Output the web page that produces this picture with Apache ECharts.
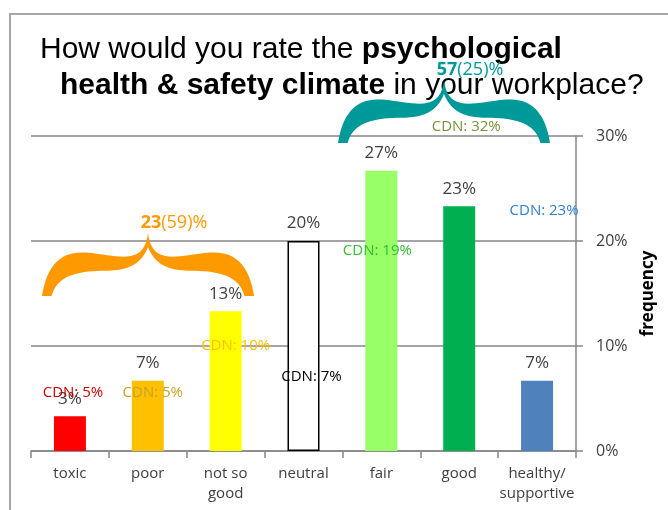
<!DOCTYPE html>
<html><head><meta charset="utf-8">
<script src="https://cdn.jsdelivr.net/npm/echarts@6/dist/echarts.min.js"></script>
<style>html,body{margin:0;padding:0;background:#fff}#c{width:668px;height:510px}</style>
</head><body><div id="c"></div>
<script>
// ---- data ----
const categories = ['toxic', 'poor', 'not so\ngood', 'neutral', 'fair', 'good', 'healthy/\nsupportive'];
const frequency = [3.3, 6.7, 13.3, 20, 26.7, 23.3, 6.7];
const cdnCategories = ['toxic', 'poor', 'not so\ngood', 'neutral', 'fair', 'healthy/\nsupportive'];
const cdnValues = [5, 5, 10, 7, 19, 23];
const groupTotals = [23, 57];
const groupPrevious = [59, 25];
const groupCdnCategory = 'good';
const groupCdnValue = 32;
const yTicks = [0, 10, 20, 30];

// ---- styles ----
const barColors = ['#ff0000', '#ffc000', '#ffff00', '#ffffff', '#99ff66', '#00b050', '#4f81bd'];
const cdnColors = ['#cc0000', '#c9a227', '#ffc000', '#000000', '#33bb33', '#2f7fd0'];
const cdnOffsets = [[3, -6], [5, -6], [10, 0], [8, -1], [-4, -1], [7, 1]];
const txt = '#404040';
const FONT = 'Open Sans';

function bez(p0, p1, p2, p3, n, out) {
  for (let i = 1; i <= n; i++) {
    const t = i / n, u = 1 - t;
    out.push([
      u*u*u*p0[0] + 3*u*u*t*p1[0] + 3*u*t*t*p2[0] + t*t*t*p3[0],
      u*u*u*p0[1] + 3*u*u*t*p1[1] + 3*u*t*t*p2[1] + t*t*t*p3[1]
    ]);
  }
}
function brace(x0, x1, t, e) {
  const W = x1 - x0, H = e - t;
  const L = (a, b) => [x0 + a * W, t + b * H];
  const R = (a, b) => [x1 - a * W, t + b * H];
  const pts = [L(0, 1)];
  let cur = L(0, 1);
  const run = (segs) => segs.forEach(s => { bez(cur, s[0], s[1], s[2], 20, pts); cur = s[2]; });
  run([
    [L(0.02, 0.55), L(0.08, 0.32), L(0.18, 0.31)],
    [L(0.32, 0.30), L(0.48, 0.60), L(0.5, 0)],
    [R(0.48, 0.60), R(0.32, 0.30), R(0.18, 0.31)],
    [R(0.08, 0.32), R(0.02, 0.55), R(0, 1)]
  ]);
  cur = R(0.045, 1); pts.push(cur);
  run([
    [R(0.07, 0.70), R(0.15, 0.60), R(0.30, 0.60)],
    [R(0.40, 0.60), R(0.47, 0.50), L(0.5, 0.22)],
    [L(0.47, 0.50), L(0.40, 0.60), L(0.30, 0.60)],
    [L(0.15, 0.60), L(0.07, 0.70), L(0.045, 1)]
  ]);
  return pts;
}

const titleRich = {
  n: { fontFamily: 'Liberation Sans', fontSize: 30, fill: '#000' },
  b: { fontFamily: 'Liberation Sans', fontSize: 30, fontWeight: 'bold', fill: '#000' }
};

const chart = echarts.init(document.getElementById('c'), null, { renderer: 'canvas' });
chart.setOption({
  animation: false,
  backgroundColor: '#fff',
  grid: { left: 31, right: 92, top: 136, bottom: 59 },
  xAxis: {
    type: 'category', data: categories,
    axisLine: { lineStyle: { color: '#868686', width: 1.5 } },
    axisTick: { show: true, length: 7, lineStyle: { color: '#868686', width: 1.5 } },
    axisLabel: { color: txt, fontFamily: FONT, fontSize: 15, margin: 13, lineHeight: 20, interval: 0 }
  },
  yAxis: {
    type: 'value', position: 'right', min: 0, max: 30, interval: 10,
    axisLine: { show: true, lineStyle: { color: '#868686', width: 1.5 } },
    axisTick: { show: true, length: 7, lineStyle: { color: '#868686', width: 1.5 } },
    splitLine: { lineStyle: { color: '#868686', width: 1.5 } },
    axisLabel: { color: txt, fontFamily: FONT, fontSize: 16, margin: 20, formatter: v => yTicks.includes(v) ? v + '%' : '' },
    name: 'frequency', nameLocation: 'middle', nameRotate: 90, nameGap: 64,
    nameTextStyle: { color: '#000', fontFamily: FONT, fontSize: 17, fontWeight: 'bold' }
  },
  series: [
    {
      type: 'bar', barWidth: 32,
      data: frequency.map((v, i) => ({
        value: v,
        itemStyle: { color: barColors[i], borderColor: i === 3 ? '#000' : barColors[i], borderWidth: i === 3 ? 1.5 : 0 }
      })),
      label: { show: true, position: 'top', distance: 9, color: txt, fontFamily: FONT, fontSize: 17,
        formatter: p => Math.round(p.value) + '%' }
    },
    {
      type: 'scatter', symbolSize: 1, clip: false, z: 5,
      itemStyle: { color: 'rgba(0,0,0,0)', opacity: 1 },
      emphasis: { disabled: true },
      data: cdnCategories.map((c, i) => ({
        value: [c, cdnValues[i]],
        label: { color: cdnColors[i], offset: cdnOffsets[i] }
      })).concat([{
        value: [groupCdnCategory, 30.9],
        label: { color: '#77933c', offset: [7, 0], formatter: 'CDN: ' + groupCdnValue + '%' }
      }]),
      label: { show: true, position: 'inside', fontFamily: FONT, fontSize: 15, opacity: 1,
        formatter: p => 'CDN: ' + p.value[1] + '%' }
    }
  ],
  graphic: [
    { type: 'rect', shape: { x: 10, y: 14, width: 800, height: 600 }, style: { fill: 'none', stroke: '#a6a6a6', lineWidth: 2 }, z: 0 },
    { type: 'text', x: 40, y: 50, style: { text: '{n|How would you rate the }{b|psychological}', verticalAlign: 'middle', rich: titleRich }, z: 10 },
    { type: 'text', x: 60, y: 86, style: { text: '{b|health & safety climate}{n| in your workplace?}', verticalAlign: 'middle', rich: titleRich }, z: 10 },
    { type: 'polygon', shape: { points: brace(42, 254, 233, 296) }, style: { fill: '#ff9900' }, z: 20 },
    { type: 'polygon', shape: { points: brace(338, 550, 80, 143) }, style: { fill: '#009999' }, z: 20 },
    { type: 'text', x: 174, y: 223, style: {
      text: '{b|' + groupTotals[0] + '}{n|(' + groupPrevious[0] + ')%}', align: 'center', verticalAlign: 'middle',
      rich: { b: { fontFamily: FONT, fontSize: 18, fontWeight: 'bold', fill: '#ff9900' }, n: { fontFamily: FONT, fontSize: 18, fill: '#ff9900' } } }, z: 21 },
    { type: 'text', x: 470, y: 70, style: {
      text: '{b|' + groupTotals[1] + '}{n|(' + groupPrevious[1] + ')%}', align: 'center', verticalAlign: 'middle',
      rich: { b: { fontFamily: FONT, fontSize: 18, fontWeight: 'bold', fill: '#009999' }, n: { fontFamily: FONT, fontSize: 18, fill: '#009999' } } }, z: 21 }
  ]
});
</script></body></html>
